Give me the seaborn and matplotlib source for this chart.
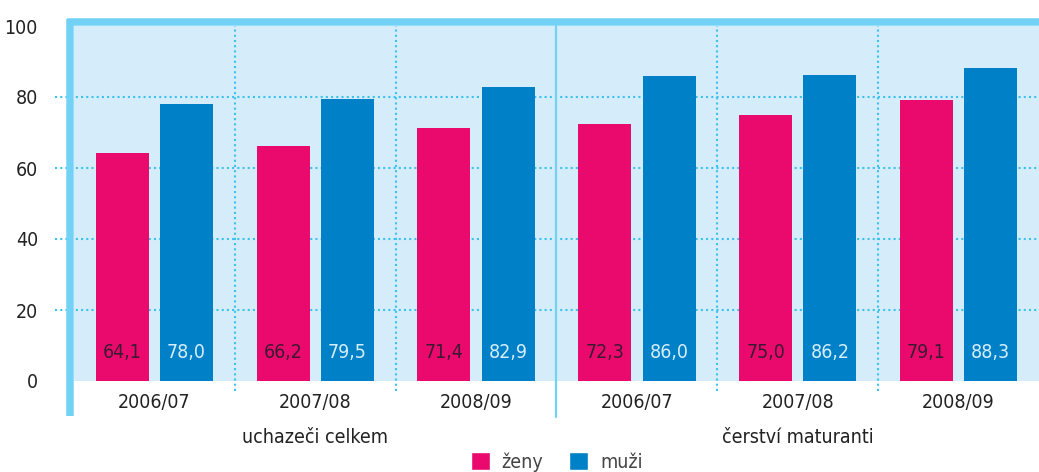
import pandas as pd
import matplotlib.pyplot as plt
import matplotlib.transforms as mtransforms
from matplotlib.patches import Patch
import seaborn as sns

# Data
years = ["2006/07", "2007/08", "2008/09"]
groups = ["uchazeči celkem", "čerství maturanti"]
zeny = [64.1, 66.2, 71.4, 72.3, 75.0, 79.1]
muzi = [78.0, 79.5, 82.9, 86.0, 86.2, 88.3]
series = ["ženy", "muži"]

pink = "#EA0A6E"
blue = "#0080C6"
bg = "#D5ECFA"
border = "#72D2F6"
dots = "#3CC2EE"

keys = [f"{g} {y}" for g in groups for y in years]
df = pd.DataFrame({
    "kat": keys * 2,
    "pohlavi": ["ženy"] * 6 + ["muži"] * 6,
    "hodnota": zeny + muzi,
})

sns.set_style("white")
plt.rcParams["font.family"] = ["DejaVu Sans"]
plt.rcParams["font.stretch"] = "condensed"

fig = plt.figure(figsize=(10.39, 4.72), dpi=100)
ax = fig.add_axes([74 / 1039, 91 / 472, 965 / 1039, 355 / 472])
ax.set_facecolor(bg)

sns.barplot(data=df, x="kat", y="hodnota", hue="pohlavi", order=keys,
            hue_order=series, palette=[pink, blue], width=0.8, gap=0.175,
            saturation=1, legend=False, ax=ax, zorder=3, linewidth=0)

ax.set_xlim(-0.5, 5.5)
ax.set_ylim(0, 100)
for s in ax.spines.values():
    s.set_visible(False)

# dotted grid
for v in [20, 40, 60, 80]:
    ax.axhline(v, xmin=-0.02, xmax=1, color=dots, lw=1.5,
               ls=(0, (1, 1.5)), clip_on=False, zorder=1)
for xv in [0.5, 1.5, 3.5, 4.5]:
    ax.axvline(xv, ymin=-0.027, ymax=1, color=dots, lw=1.5,
               ls=(0, (1, 1.5)), clip_on=False, zorder=1)

# frame: thick left and top, thin middle separator
trans_x = mtransforms.blended_transform_factory(ax.transData, ax.transAxes)
ax.plot([2.5, 2.5], [-0.1, 1.0], transform=trans_x, color=border, lw=1.6,
        clip_on=False, zorder=4)
ax.plot([-0.0038, -0.0038], [-0.099, 1.019], transform=ax.transAxes,
        color=border, lw=5.4, clip_on=False, solid_capstyle="butt", zorder=5)
ax.plot([-0.0076, 1.0], [1.0105, 1.0105], transform=ax.transAxes,
        color=border, lw=5.4, clip_on=False, solid_capstyle="butt", zorder=5)

# value labels inside bars
label_colors = ["#3a1a30", "#D6EEFB"]
for container, vals, tc in zip(ax.containers, [zeny, muzi], label_colors):
    for bar, v in zip(container, vals):
        ax.text(bar.get_x() + bar.get_width() / 2, 8.1,
                f"{v:.1f}".replace(".", ","), ha="center", va="center",
                fontsize=14, color=tc, zorder=6)

ax.set_yticks([0, 20, 40, 60, 80, 100])
ax.set_yticklabels(["0", "20", "40", "60", "80", "100"], fontsize=14,
                   color="#222222")
ax.set_xticks(range(6))
ax.set_xticklabels(years * 2, fontsize=14, color="#222222")
ax.tick_params(axis="y", length=0, pad=26)
ax.tick_params(axis="x", length=0, pad=9)
ax.set_xlabel("")
ax.set_ylabel("")

for i, g in enumerate(groups):
    ax.text(1 + 3 * i, -0.158, g, transform=trans_x, ha="center",
            va="center", fontsize=14, color="#222222")

handles = [Patch(facecolor=pink, label="ženy"), Patch(facecolor=blue, label="muži")]
ax.legend(handles=handles, loc="center", bbox_to_anchor=(0.5, -0.228),
          ncol=2, frameon=False, fontsize=14, handlelength=1.0,
          handleheight=1.0, handletextpad=0.6, columnspacing=1.3,
          labelcolor="#444444")

fig.savefig("out.png", dpi=100)
